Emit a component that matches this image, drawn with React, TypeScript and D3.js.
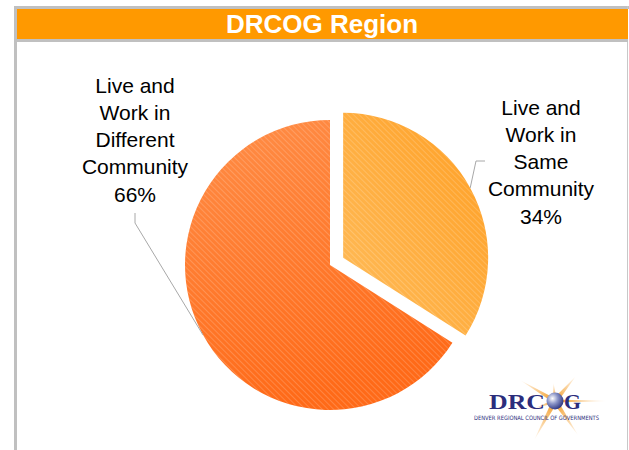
import React from "react";
import * as d3 from "d3";

// chart data
const categories = ["Same Community", "Different Community"];
const shares = [34, 66];
const labelLines = [
	["Live and", "Work in", "Same", "Community", "34%"],
	["Live and", "Work in", "Different", "Community", "66%"],
];
const title = "DRCOG Region";

const W = 629;
const H = 450;
const cx = 330;
const cy = 265;
const radius = 145;
const explode = 15;

// label layout: centre of the text block, first line y, elbow + end of leader
const labelLayout = [
	{ x: 541, y: 107, elbow: [476, 161], end: [485, 161] },
	{ x: 135, y: 85, elbow: [135, 223], end: [135, 213] },
];

const FONT = "'Liberation Sans', Arial, Helvetica, sans-serif";

export default function App() {
	const pie = d3
		.pie<number>()
		.sort(null)
		.value((d) => d);
	const arcs = pie(shares);
	const arc = d3.arc<d3.PieArcDatum<number>>().innerRadius(0).outerRadius(radius);

	const fills = ["url(#gradSmall)", "url(#gradBig)"];

	// rays of the logo star (angle in degrees, length, half width)
	const rays = [
		[50, 32, 2.8],
		[0, 52, 1.6],
		[149, 40, 2.2],
		[242, 44, 2.8],
		[304, 41, 2.6],
		[95, 18, 2],
		[200, 22, 1.8],
	];
	const logoCx = 555;
	const logoCy = 401;

	return (
		<svg
			width={W}
			height={H}
			style={{ position: "absolute", left: 0, top: 0, background: "#fff" }}
		>
			<defs>
				<linearGradient id="gradBig" x1="0" y1="0" x2="0.3" y2="1">
					<stop offset="0%" stopColor="#FF8E48" />
					<stop offset="100%" stopColor="#FF6A18" />
				</linearGradient>
				<linearGradient id="gradSmall" x1="1" y1="0" x2="0" y2="1">
					<stop offset="0%" stopColor="#FF9E22" />
					<stop offset="100%" stopColor="#FFBD5C" />
				</linearGradient>
				<pattern
					id="stripes"
					width="4"
					height="4"
					patternUnits="userSpaceOnUse"
					patternTransform="rotate(-45)"
				>
					<rect width="1" height="4" fill="#fff" fillOpacity="0.18" />
				</pattern>
				<radialGradient id="sphere" cx="0.35" cy="0.35" r="0.7">
					<stop offset="0%" stopColor="#ffffff" />
					<stop offset="45%" stopColor="#8C96C8" />
					<stop offset="100%" stopColor="#2A3380" />
				</radialGradient>
				<linearGradient id="ray" x1="0" y1="0" x2="1" y2="0">
					<stop offset="0%" stopColor="#F29A20" stopOpacity="1" />
					<stop offset="100%" stopColor="#F5A030" stopOpacity="0.05" />
				</linearGradient>
			</defs>

			{/* frame */}
			<rect x={14} y={6} width={W - 14} height={3} fill="#C0C0C0" />
			<rect x={14} y={6} width={3} height={H - 6} fill="#C0C0C0" />
			<rect x={627} y={6} width={1} height={H - 6} fill="#C8C8C8" />
			<rect x={17} y={9} width={611} height={30} fill="#FF9900" />
			<rect x={17} y={39} width={611} height={3} fill="#C0C0C0" />
			<text
				x={322}
				y={33}
				textAnchor="middle"
				fill="#fff"
				fontFamily={FONT}
				fontWeight="bold"
				fontSize={26}
			>
				{title}
			</text>

			{/* pie */}
			{arcs.map((a, i) => {
				const mid = (a.startAngle + a.endAngle) / 2;
				const off = i === 0 ? explode : 0;
				const ox = cx + Math.sin(mid) * off;
				const oy = cy - Math.cos(mid) * off;
				const edge = [ox + Math.sin(mid) * radius, oy - Math.cos(mid) * radius];
				const lay = labelLayout[i];
				return (
					<g key={categories[i]}>
						<g transform={`translate(${ox},${oy})`}>
							<path d={arc(a) || ""} fill={fills[i]} />
							<path d={arc(a) || ""} fill="url(#stripes)" />
						</g>
						<polyline
							points={`${edge[0]},${edge[1]} ${lay.elbow[0]},${lay.elbow[1]} ${lay.end[0]},${lay.end[1]}`}
							fill="none"
							stroke="#A8A8A8"
							strokeWidth={1}
						/>
						<text
							textAnchor="middle"
							fontFamily={FONT}
							fontSize={21}
							fill="#000"
						>
							{labelLines[i].map((l, j) => (
								<tspan
									key={j}
									x={lay.x}
									y={lay.y + j * 27.3}
									dominantBaseline="central"
								>
									{l}
								</tspan>
							))}
						</text>
					</g>
				);
			})}

			{/* logo */}
			<g>
				{rays.map(([ang, len, hw], i) => (
					<path
						key={i}
						transform={`translate(${logoCx},${logoCy}) rotate(${-ang})`}
						d={`M0,${-hw} L${len},0 L0,${hw} Z`}
						fill="url(#ray)"
					/>
				))}
				<text
					x={489}
					y={409}
					fontFamily="'Liberation Serif', 'Times New Roman', serif"
					fontWeight="bold"
					fontSize={21}
					fill="#2B2D7C"
					textLength={56}
					lengthAdjust="spacingAndGlyphs"
				>
					DRC
				</text>
				<circle cx={logoCx} cy={logoCy} r={8.5} fill="url(#sphere)" />
				<text
					x={564}
					y={409}
					fontFamily="'Liberation Serif', 'Times New Roman', serif"
					fontWeight="bold"
					fontSize={21}
					fill="#2B2D7C"
					textLength={17}
					lengthAdjust="spacingAndGlyphs"
				>
					G
				</text>
				<text
					x={474}
					y={420}
					fontFamily="'DejaVu Sans Condensed', sans-serif"
					fontSize={6}
					fill="#2B2D7C"
					textLength={125}
					lengthAdjust="spacingAndGlyphs"
				>
					DENVER REGIONAL COUNCIL OF GOVERNMENTS
				</text>
			</g>
		</svg>
	);
}
